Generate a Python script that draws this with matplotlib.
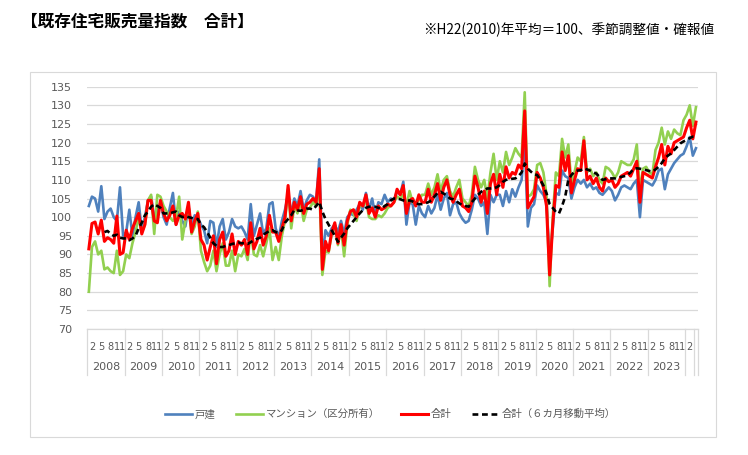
import numpy as np
import matplotlib
matplotlib.use('Agg')
import matplotlib.pyplot as plt
import matplotlib.transforms as mtransforms
from matplotlib.patches import Rectangle

plt.rcParams['font.family'] = ['DejaVu Sans', 'Noto Sans CJK JP']

# monthly index, Jan 2008 - Apr 2024
years = list(range(2008, 2024))
month_labels = [2, 5, 8, 11]

# 戸建
detached = [
    103, 105.5, 105, 101.5, 108.3, 99.5, 101.5, 102.3, 100, 99, 108, 95,
    96, 102, 95, 100, 104, 96.5, 100, 104.5, 105.5, 100, 101.5, 104,
    100, 98, 102.5, 106.5, 98, 101.5, 99, 97.5, 103, 97, 100.5, 100,
    98, 96.5, 93, 99, 98.5, 92, 97.5, 99.5, 94, 96, 99.5, 97.5,
    97, 97.5, 96, 94, 103.5, 95, 98, 101, 95.5, 97, 103.5, 104,
    97, 94.5, 99, 102, 106, 101, 105, 103, 107, 102, 104.5, 106,
    105.5, 104, 115.5, 89, 96.5, 95, 97, 98, 96, 99, 95.5, 100,
    101, 100.5, 102, 103.5, 102, 106.5, 102, 105, 100.5, 104, 103.5, 106,
    104, 105, 104.5, 107, 106, 109.5, 98, 104, 103.5, 98, 103, 101,
    100, 103, 101, 102.5, 106, 102, 105, 106.5, 100.5, 103.5, 104, 101,
    99.5, 98.5, 99, 102, 106, 105, 103, 104, 95.5, 106, 104, 106,
    106, 103, 107, 104, 107.5, 105.5, 108, 110, 121, 97.5, 102.5, 103.5,
    108.5, 107, 106, 104, 88, 97, 106.5, 106, 112.5, 111, 110.5, 105,
    108, 110, 109, 110, 108, 109, 107.5, 108, 106.5, 106, 107, 108,
    107, 104.5, 106, 108, 108.5, 108, 107.5, 109, 110, 100, 110, 109.5,
    109, 108.5, 110, 112.5, 113, 107.5, 111.5, 113, 114.5, 115.5, 116.5, 117,
    119, 121.5, 116.5, 118.5,
]

# マンション（区分所有）
condo = [
    80, 92, 93.5, 90, 91, 86, 86.5, 85.5, 85, 91, 84.5, 85.5,
    90, 89, 93, 96, 100, 96, 98, 104.5, 106, 95.5, 106, 105.5,
    103, 101.5, 100, 99, 100, 105.5, 94, 99, 103, 95.5, 97.5, 101.5,
    91, 88, 85.5, 87, 91, 85.5, 90, 93, 87, 87, 91, 85.5,
    90, 89.5, 91.5, 88.5, 96, 90, 89.5, 92.5, 89.5, 93, 97, 88.5,
    92, 88.5, 95, 99, 107.5, 97, 103, 101, 104, 99, 102, 102.5,
    104, 103, 109, 84.5, 91, 90.5, 95.5, 98, 92.5, 97, 89.5, 98,
    102, 101, 99, 103, 103, 104.5, 100, 99.5, 99.5, 100.5, 100, 101,
    102.5, 103, 104, 105.5, 105, 106, 103, 107, 104, 104, 104.5, 106,
    106, 109, 106, 108, 111.5, 107, 110, 111, 107, 105.5, 108, 110,
    105, 104, 103, 106, 113.5, 110, 108, 110, 105, 112, 117, 110,
    115, 112, 117.5, 114, 116, 118.5, 117, 116, 133.5, 105.5, 106, 107.5,
    114, 114.5, 112, 106, 81.5, 100, 112, 111, 121, 116, 119.5, 109,
    112, 116, 115, 121.5, 112, 113, 111, 112, 110, 109, 113.5, 113,
    112, 110.5, 112, 115, 114.5, 114, 114, 115.5, 119.5, 107, 113, 113.5,
    112, 111.5, 118, 120, 124, 119.5, 123, 121, 123.5, 122.5, 122, 126,
    127.5, 130, 124.5, 129.5,
]

# 合計
total = [
    91.5, 98.3, 98.7, 95.5, 99.2, 93.5, 94.5, 94, 93, 100.3, 90, 90.5,
    96.5, 94, 97, 99, 101, 95.5, 98, 104.5, 104.5, 99, 98.5, 104.5,
    101, 99, 100.5, 103, 98, 100.5, 101, 99.5, 104, 96, 99, 101,
    94, 92.5, 88.5, 92, 95, 87.5, 94, 96, 89.5, 91, 95.5, 90,
    93.5, 92.5, 94, 90, 98.5, 91.5, 93.5, 97, 92.5, 95, 100.5, 96,
    96, 93.5, 97, 100, 108.5, 99, 104, 102, 105.5, 101, 103.5, 104,
    105, 104, 113, 86, 93.5, 91, 96, 98.5, 93, 98, 92.5, 99,
    101.5, 102, 100, 104, 103, 106, 101, 102.5, 100, 103, 102, 102.5,
    103.5, 103, 104, 107.5, 106, 108.5, 101, 104.5, 105, 103, 106, 104,
    104, 107.5, 104, 106, 109, 104.5, 108, 110, 106, 104, 106, 107.5,
    103, 102.5, 101.5, 104, 111, 108, 104, 107, 101, 109, 111.5, 106,
    111.5, 108, 113.5, 110.5, 112, 111.5, 114, 113, 128.5, 102.5, 104, 105.5,
    112, 110.5, 108, 103, 84.5, 98, 108.5, 108, 117.5, 112.5, 116.5, 106.5,
    110, 113, 112.5, 120.5, 110, 111, 109, 110.5, 108, 107, 110.5, 109.5,
    110, 108, 109, 111, 111.5, 112, 111, 113, 115, 104, 112, 111.5,
    111, 110.5, 113.5, 116, 119.5, 114, 119, 117, 120, 120.5, 121, 121.5,
    124, 126, 121, 125.5,
]

# 合計（6カ月移動平均）, from Jun 2008
ma6 = [
    96, 96.3, 95.5, 95, 95.3, 94.5, 94.3,
    94.3, 93.8, 94.3, 95, 97, 98.5, 100.5, 101.5, 102.8, 103.5, 103, 102.5,
    101, 101, 101, 101.3, 101.5, 100.5, 100, 100.3, 100, 99.8, 99.5, 99.5,
    98, 97.3, 96, 94.5, 93, 92.3, 92, 92, 92.3, 92.5, 92.8, 93,
    93.2, 93, 93, 92.8, 93.3, 93.8, 94.2, 94.5, 95.3, 95.8, 96.3, 96.5,
    96, 95.8, 96.5, 98.5, 99.5, 100.5, 101.9, 101.8, 101.7, 102, 102.3, 102.3,
    102, 103, 104.1, 101.5, 99.5, 98, 96.5, 95, 93.4, 94.5, 95.6, 97,
    98, 99, 100, 101, 101.9, 102.5, 102.8, 102.8, 102.8, 102.5, 102.3, 103,
    103.5, 104.5, 105, 105, 104.8, 104.5, 104.3, 104.5, 104.2, 103.7, 103.5, 103.5,
    103.7, 104, 104.5, 105.5, 106.5, 106.8, 106.3, 105.8, 105, 104.8, 104.3, 103.7,
    103.2, 103, 102.8, 104, 105, 106, 106.8, 107.3, 107.7, 107.7, 107.8, 108,
    108.6, 109.5, 110, 110.2, 110.3, 110.4, 111, 112, 114.4, 113, 112.2, 111.5,
    111.3, 110, 108.5, 106.4, 103.5, 102.5, 101.4, 101, 103, 105.5, 110, 111.3,
    112.2, 112.5, 112.6, 113.1, 112.8, 112.5, 112, 111.7, 110.8, 110, 110.2, 110.4,
    110.4, 110.4, 110.6, 110.8, 111, 111.3, 112, 113, 113.1, 113, 112.8, 112.6,
    112.4, 112.2, 112.8, 113.5, 114.5, 115.8, 116.5, 117.1, 118, 118.9, 119.8, 120.3,
    120.7, 121.2, 121.6, 121.6,
]

n = len(total)
x = np.arange(n)
x_ma = np.arange(n - len(ma6), n)

fig = plt.figure(figsize=(7.48, 4.55), dpi=100)
fig.patches.append(Rectangle((0.040, 0.040), 0.917, 0.802, transform=fig.transFigure,
                             fill=False, edgecolor='#d9d9d9', linewidth=0.8))

ax = fig.add_axes([0.1167, 0.2769, 0.8158, 0.5326])
ax.plot(x, detached, color='#4f81bd', lw=1.9, label='戸建', zorder=3)
ax.plot(x, condo, color='#92d050', lw=1.9, label='マンション（区分所有）', zorder=3)
ax.plot(x, total, color='#ff0000', lw=2.2, label='合計', zorder=4)
ax.plot(x_ma, ma6, color='black', lw=1.9, ls=(0, (2.2, 1.4)), label='合計（６カ月移動平均）', zorder=5)

ax.set_xlim(-0.5, n - 0.5)
ax.set_ylim(70, 135)
ax.set_yticks(np.arange(70, 136, 5))
ax.grid(axis='y', color='#d9d9d9', lw=0.9)
ax.set_axisbelow(True)
for s in ax.spines.values():
    s.set_visible(False)
ax.tick_params(axis='y', length=0, pad=11, labelsize=8, labelcolor='#595959')

# month labels (2, 5, 8, 11) on the lower axis
ticks = []
labels = []
for k, yr in enumerate(years):
    for m in month_labels:
        ticks.append(k * 12 + m - 1)
        labels.append(str(m))
ticks.append(len(years) * 12 + 1)
labels.append('2')
ax.set_xticks(ticks)
ax.set_xticklabels(labels)
ax.tick_params(axis='x', length=0, pad=9, labelsize=7, labelcolor='#595959')

trans = mtransforms.blended_transform_factory(ax.transData, ax.transAxes)
for k, yr in enumerate(years):
    ax.text(k * 12 + 5.5, -0.155, str(yr), transform=trans, ha='center', va='center',
            fontsize=8, color='#595959')
seps = [k * 12 - 0.5 for k in range(len(years) + 1)] + [n - 1.5, n - 0.5]
for s in seps:
    ax.plot([s, s], [0, -0.19], transform=trans, color='#d9d9d9', lw=0.9, clip_on=False)
ax.plot([-0.5, n - 0.5], [0, 0], transform=trans, color='#d9d9d9', lw=0.9, clip_on=False)

leg = fig.legend(loc='center', bbox_to_anchor=(0.522, 0.09), ncol=4, frameon=False,
                 handlelength=2.6, columnspacing=2.0, handletextpad=0.25,
                 prop={'family': ['Noto Sans CJK JP'], 'size': 7.5})
for t in leg.get_texts():
    t.set_color('#595959')

fig.text(0.028, 0.952, '【既存住宅販売量指数　合計】', fontsize=12, fontweight='bold',
         family=['Noto Sans CJK JP'], ha='left', va='center')
fig.text(0.955, 0.934, '※H22(2010)年平均＝100、季節調整値・確報値', fontsize=9.8,
         family=['Noto Sans CJK JP'], ha='right', va='center')

fig.savefig('out.png', dpi=100)
